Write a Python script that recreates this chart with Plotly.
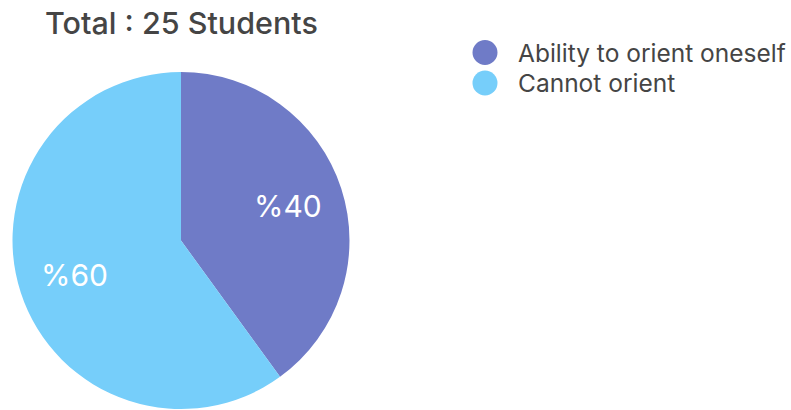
import math
import plotly.graph_objects as go

# Data
categories = ["Ability to orient oneself", "Cannot orient"]
percentages = [40, 60]
total_students = 25
colors = ["#6f7bc7", "#76cefa"]

W, H = 791, 410
FONT = "Inter, Liberation Sans, Arial, sans-serif"
TEXT_GRAY = "#454545"

# Pie geometry in pixels
CX, CY, R = 181, 240.5, 168.5
LABEL_RADIUS = 0.665


def px_x(x):
    return x / W


def px_y(y):
    return 1 - y / H


fig = go.Figure()

fig.add_trace(go.Pie(
    labels=categories,
    values=percentages,
    textinfo="none",
    marker=dict(colors=colors, line=dict(width=0)),
    sort=False,
    direction="clockwise",
    rotation=0,
    showlegend=False,
    hoverinfo="label+percent",
    domain=dict(x=[px_x(CX - R), px_x(CX + R)], y=[px_y(CY + R), px_y(CY - R)]),
))

annotations = []

# Slice labels at the middle angle of each slice (clockwise from 12 o'clock)
total = sum(percentages)
start = 0.0
for p in percentages:
    mid = (start + p / 2) / total * 2 * math.pi
    lx = CX + LABEL_RADIUS * R * math.sin(mid)
    ly = CY - LABEL_RADIUS * R * math.cos(mid)
    annotations.append(dict(
        text=f"%{p}", x=px_x(lx), y=px_y(ly), xref="paper", yref="paper",
        xanchor="center", yanchor="middle", showarrow=False,
        font=dict(size=30, color="white", family=FONT),
    ))
    start += p

# Title
annotations.append(dict(
    text=f"Total : {total_students} Students",
    x=px_x(43), y=px_y(22), xref="paper", yref="paper",
    xanchor="left", yanchor="middle", showarrow=False,
    font=dict(size=30.5, color=TEXT_GRAY, family=FONT, weight=500),
))

# Legend: circle markers with labels
shapes = []
legend_y = [52.5, 83]
for name, col, ly in zip(categories, colors, legend_y):
    shapes.append(dict(
        type="circle", xref="paper", yref="paper",
        xsizemode="pixel", ysizemode="pixel",
        xanchor=px_x(485), yanchor=px_y(ly),
        x0=-12.5, x1=12.5, y0=-12.5, y1=12.5,
        fillcolor=col, line=dict(width=0),
    ))
    annotations.append(dict(
        text=name, x=px_x(516), y=px_y(ly), xref="paper", yref="paper",
        xanchor="left", yanchor="middle", showarrow=False,
        font=dict(size=24.5, color=TEXT_GRAY, family=FONT),
    ))

fig.update_layout(
    width=W, height=H,
    margin=dict(l=0, r=0, t=0, b=0),
    paper_bgcolor="white", plot_bgcolor="white",
    annotations=annotations, shapes=shapes,
)

fig.write_html("out.html")
